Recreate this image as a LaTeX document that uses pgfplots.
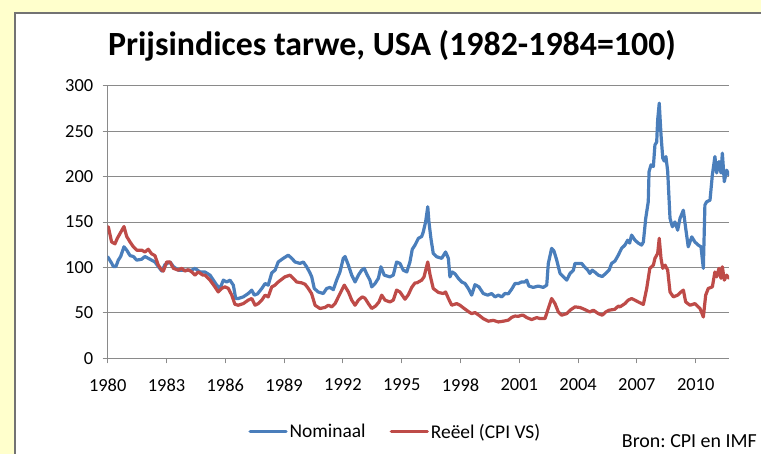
\documentclass[border=0pt]{standalone}
\usepackage{fontspec}
\setmainfont{Carlito}
\usepackage{pgfplots}
\pgfplotsset{compat=1.18}
\definecolor{bgy}{HTML}{FFFFCC}
\definecolor{nomblue}{HTML}{4A7EBB}
\definecolor{reelred}{HTML}{BE4B48}
\definecolor{gridgray}{HTML}{8A8A8A}
\frenchspacing
\begin{document}
\begin{tikzpicture}[x=1bp,y=1bp]
\fill[bgy] (0,0) rectangle (761,454);
\useasboundingbox (0,0) rectangle (761,454);
\fill[white] (15,0) rectangle (761,441);
\draw[gray!90!black, line width=1.5bp] (15,0) -- (15,441) -- (761,441);
\node[anchor=base, font=\bfseries\fontsize{34}{38}\selectfont, inner sep=0pt] at (392,398) {Prijsindices tarwe, USA (1982-1984=100)};
\node[anchor=base east, font=\fontsize{20}{24}\selectfont, inner sep=0pt] at (757,6.5) {Bron: CPI en IMF};
\begin{axis}[
  at={(107.7bp,95.7bp)}, anchor=south west, scale only axis,
  width=621.3bp, height=272.6bp,
  xmin=1980, xmax=2011.7, ymin=0, ymax=300,
  axis lines*=left,
  axis line style={draw=gridgray, line width=0.9bp},
  ytick={0,50,...,300}, ymajorgrids,
  grid style={draw=gridgray, line width=0.9bp},
  xtick={1980,1983,...,2010}, minor x tick num=2,
  tick align=outside, major tick length=5bp, minor tick length=5bp,
  tick style={draw=gridgray, line width=0.9bp},
  /pgf/number format/assume math mode=true,
  /pgf/number format/1000 sep={},
  xticklabel style={font=\fontsize{18.5}{22}\selectfont, text=black, yshift=-12bp},
  yticklabel style={font=\fontsize{18.5}{22}\selectfont, text=black, xshift=-6bp},
  legend columns=2,
  legend style={at={(0.463,-0.27)}, anchor=center, draw=none, fill=none,
    font=\fontsize{19.5}{23}\selectfont,
    /tikz/every even column/.append style={column sep=22bp}},
  legend image code/.code={\draw[#1, line width=3.2bp] (0bp,0bp) -- (36bp,0bp);},
  every axis plot/.append style={line width=3.2bp, line join=round, line cap=round},
]
\addplot[nomblue] coordinates {
(1980.00,111.7)(1980.20,104.7)(1980.29,101)(1980.42,101)(1980.54,108)(1980.66,112)(1980.83,122.7)(1980.97,119)(1981.14,113)(1981.31,112)(1981.48,108)(1981.73,109)(1981.90,112)(1982.07,110)(1982.24,108)(1982.41,106)(1982.58,101)(1982.76,96)(1982.92,103)(1983.18,106)(1983.35,101)(1983.60,97)(1983.94,97)(1984.29,97)(1984.45,99)(1984.71,95)(1984.96,95)(1985.22,91.5)(1985.39,86)(1985.56,80.5)(1985.73,76.8)(1985.90,86)(1986.07,84)(1986.24,86)(1986.41,80.5)(1986.53,65.8)(1986.66,65.8)(1986.92,67.6)(1987.17,71.3)(1987.35,75)(1987.48,69.5)(1987.65,71)(1987.86,76.8)(1988.03,82.3)(1988.19,80.5)(1988.37,94)(1988.54,97)(1988.70,106)(1988.96,110)(1989.21,113.5)(1989.39,110)(1989.56,106)(1989.81,104.4)(1989.98,106)(1990.15,100.7)(1990.32,94)(1990.41,89.6)(1990.54,76.8)(1990.74,73)(1991.00,71.3)(1991.17,76.8)(1991.34,78)(1991.51,75.5)(1991.68,86)(1991.85,95)(1992.02,110)(1992.11,112)(1992.28,102.5)(1992.45,91.5)(1992.62,84)(1992.79,91.5)(1992.96,97)(1993.09,99)(1993.21,93)(1993.38,86)(1993.47,78.6)(1993.64,82.3)(1993.81,88)(1993.94,100.7)(1994.11,91.5)(1994.40,89.6)(1994.57,91.5)(1994.74,106)(1994.91,104.4)(1995.08,97)(1995.26,95)(1995.42,106)(1995.54,120)(1995.68,124.6)(1995.85,132)(1996.02,134)(1996.10,139)(1996.22,150)(1996.33,166.8)(1996.39,150)(1996.49,132)(1996.61,115.4)(1996.79,111.7)(1997.04,110)(1997.24,117)(1997.38,110)(1997.46,89.6)(1997.58,95)(1997.72,93)(1997.89,88)(1998.06,84)(1998.23,82.3)(1998.40,76.8)(1998.57,69.5)(1998.74,81)(1998.94,78.6)(1999.16,71.3)(1999.39,69.5)(1999.59,71.3)(1999.76,67.6)(1999.93,69.5)(2000.10,67.6)(2000.27,71.3)(2000.44,71)(2000.61,76)(2000.78,82.3)(2000.95,82.3)(2001.12,84)(2001.29,84)(2001.38,86)(2001.49,79.5)(2001.71,78)(2001.97,79.5)(2002.22,78)(2002.40,80.5)(2002.48,104.4)(2002.65,121)(2002.77,118)(2002.91,108)(2003.08,93.4)(2003.24,90)(2003.42,86)(2003.59,93.4)(2003.76,97)(2003.84,104.4)(2004.01,104.4)(2004.18,104.4)(2004.32,100.7)(2004.49,97)(2004.60,93.4)(2004.72,97)(2004.90,94)(2005.03,91.5)(2005.23,90)(2005.41,93.4)(2005.58,97)(2005.71,104.4)(2005.88,107)(2006.05,113.5)(2006.22,121)(2006.39,124.6)(2006.53,130)(2006.63,126.8)(2006.73,135.6)(2006.90,130)(2007.07,126.8)(2007.24,124.6)(2007.33,128)(2007.45,154)(2007.58,172.3)(2007.62,205.4)(2007.72,212.8)(2007.84,211)(2007.92,234.8)(2008.01,238)(2008.06,262.4)(2008.14,280.8)(2008.23,245.9)(2008.32,220.2)(2008.40,217)(2008.48,222)(2008.57,206)(2008.69,154)(2008.81,144.8)(2008.94,150)(2009.08,141)(2009.20,154)(2009.37,163)(2009.49,143)(2009.62,122.7)(2009.80,133.6)(2009.96,128)(2010.13,124.6)(2010.27,122.7)(2010.39,99)(2010.47,168.7)(2010.56,172.3)(2010.73,174)(2010.85,201.8)(2010.98,222)(2011.07,204)(2011.19,216.5)(2011.29,204)(2011.36,225.7)(2011.46,194.4)(2011.58,207)(2011.70,201.8)
};
\addlegendentry{Nominaal}
\addplot[reelred] coordinates {
(1980.03,144.8)(1980.20,128)(1980.37,126)(1980.49,132)(1980.83,145)(1980.97,134)(1981.14,128)(1981.31,122.7)(1981.48,119)(1981.73,119)(1981.90,117)(1982.07,120)(1982.24,115)(1982.41,113)(1982.58,102.5)(1982.76,97)(1982.84,96)(1983.01,106)(1983.18,106)(1983.35,99)(1983.60,97)(1983.78,99)(1983.94,96)(1984.11,97.5)(1984.29,95)(1984.45,91.5)(1984.62,95)(1984.86,91.5)(1984.96,91.5)(1985.22,86)(1985.47,78.6)(1985.64,73)(1985.82,77)(1985.98,78.6)(1986.15,77)(1986.33,69.5)(1986.49,59.5)(1986.66,58.4)(1986.92,60.2)(1987.17,64)(1987.35,65.8)(1987.52,58.4)(1987.68,60.2)(1987.86,64)(1988.03,69.5)(1988.19,67.6)(1988.37,78.6)(1988.54,80.5)(1988.70,84)(1989.04,89.6)(1989.30,91.5)(1989.47,88)(1989.64,84)(1989.90,83)(1990.07,81.5)(1990.23,77)(1990.40,71.3)(1990.58,58.4)(1990.83,54.8)(1991.09,56)(1991.26,58.4)(1991.43,56.6)(1991.60,60.2)(1991.77,67.6)(1991.94,75)(1992.07,80.5)(1992.28,73)(1992.45,64)(1992.62,58.4)(1992.79,64)(1992.99,67.6)(1993.13,66)(1993.30,60.2)(1993.47,54.8)(1993.67,57.6)(1993.84,62)(1993.98,69.5)(1994.15,64)(1994.40,62)(1994.57,64)(1994.74,75)(1994.91,73)(1995.17,65)(1995.34,70)(1995.51,78)(1995.68,83)(1995.77,83)(1996.02,86)(1996.14,89.6)(1996.33,106)(1996.45,91.5)(1996.61,76.8)(1996.87,72.5)(1997.12,71.3)(1997.24,73)(1997.38,66)(1997.55,58.4)(1997.81,60.2)(1997.97,58.4)(1998.19,54.8)(1998.43,51)(1998.57,49.2)(1998.74,50.3)(1998.94,47.4)(1999.16,43.7)(1999.42,40.8)(1999.67,41.8)(1999.93,40)(2000.18,40.8)(2000.44,42)(2000.61,45)(2000.78,46.5)(2000.95,46.2)(2001.12,47.4)(2001.20,47.4)(2001.38,44.8)(2001.63,42.6)(2001.89,44.8)(2002.06,43.7)(2002.31,43.7)(2002.48,54.8)(2002.65,65.8)(2002.82,60.2)(2002.99,51)(2003.16,47.4)(2003.42,49.2)(2003.59,52.9)(2003.84,56.6)(2004.10,55.9)(2004.35,53.6)(2004.60,51)(2004.78,52.9)(2005.03,49.2)(2005.23,47.4)(2005.41,51)(2005.58,52.9)(2005.88,54)(2006.05,57.5)(2006.14,56.6)(2006.39,60.2)(2006.56,64)(2006.73,65.8)(2006.90,64)(2007.07,62)(2007.33,59.3)(2007.50,76.8)(2007.66,99)(2007.84,102.5)(2007.92,110)(2008.06,115.4)(2008.14,132)(2008.23,110)(2008.32,99)(2008.44,102.5)(2008.57,97)(2008.69,73)(2008.86,67.6)(2009.08,69.5)(2009.25,73)(2009.37,75)(2009.49,62)(2009.71,58.4)(2009.96,60.2)(2010.22,54.8)(2010.39,45.5)(2010.51,69.5)(2010.64,76.8)(2010.85,78.6)(2010.98,95)(2011.07,89.6)(2011.19,99)(2011.29,88)(2011.36,100.7)(2011.46,86)(2011.58,91.5)(2011.70,88)
};
\addlegendentry{Reëel (CPI VS)}
\end{axis}
\end{tikzpicture}
\end{document}
